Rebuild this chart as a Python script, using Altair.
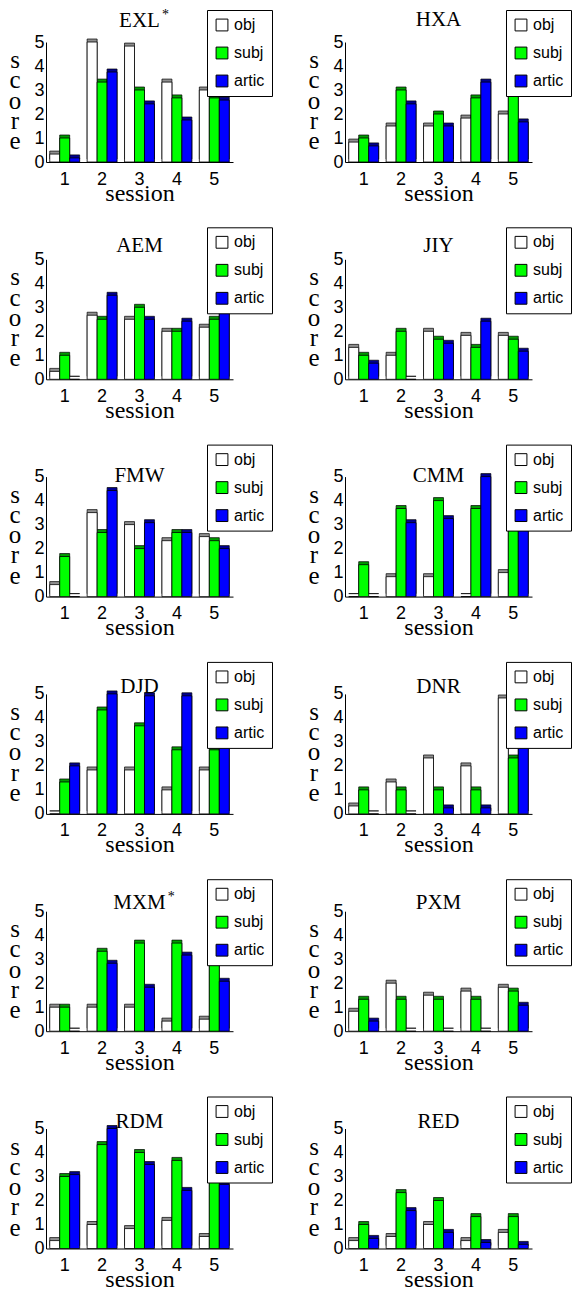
import altair as alt
import pandas as pd

# ---- data ----
sessions = [1, 2, 3, 4, 5]
measures = ["obj", "subj", "artic"]
subjects = ["EXL*", "HXA", "AEM", "JIY", "FMW", "CMM",
            "DJD", "DNR", "MXM*", "PXM", "RDM", "RED"]

obj_scores = [
    [0.33, 5.00, 4.83, 3.33, 3.00],  # EXL
    [0.83, 1.50, 1.50, 1.83, 2.00],  # HXA
    [0.33, 2.67, 2.50, 2.00, 2.17],  # AEM
    [1.33, 1.00, 2.00, 1.83, 1.83],  # JIY
    [0.50, 3.50, 3.00, 2.33, 2.50],  # FMW
    [0.00, 0.83, 0.83, 0.00, 1.00],  # CMM
    [0.00, 1.83, 1.83, 1.00, 1.83],  # DJD
    [0.33, 1.33, 2.33, 2.00, 4.83],  # DNR
    [1.00, 1.00, 1.00, 0.42, 0.50],  # MXM
    [0.83, 2.00, 1.50, 1.67, 1.83],  # PXM
    [0.33, 1.00, 0.83, 1.17, 0.50],  # RDM
    [0.33, 0.50, 1.00, 0.33, 0.67],  # RED
]
subj_scores = [
    [1.00, 3.33, 3.00, 2.67, 2.67],
    [1.00, 3.00, 2.00, 2.67, 3.00],
    [1.00, 2.50, 3.00, 2.00, 2.50],
    [1.00, 2.00, 1.67, 1.33, 1.67],
    [1.67, 2.67, 2.00, 2.67, 2.33],
    [1.33, 3.67, 4.00, 3.67, 3.33],
    [1.33, 4.33, 3.67, 2.67, 2.67],
    [1.00, 1.00, 1.00, 1.00, 2.33],
    [1.00, 3.33, 3.67, 3.67, 3.33],
    [1.33, 1.33, 1.33, 1.33, 1.67],
    [3.00, 4.33, 4.00, 3.67, 3.67],
    [1.00, 2.33, 2.00, 1.33, 1.33],
]
artic_scores = [
    [0.17, 3.75, 2.42, 1.75, 2.58],
    [0.67, 2.42, 1.50, 3.33, 1.67],
    [0.00, 3.50, 2.50, 2.42, 2.83],
    [0.67, 0.00, 1.50, 2.42, 1.17],
    [0.00, 4.42, 3.08, 2.67, 2.00],
    [0.00, 3.08, 3.25, 5.00, 4.33],
    [2.00, 5.00, 4.92, 4.92, 4.42],
    [0.00, 0.00, 0.25, 0.25, 2.75],
    [0.00, 2.83, 1.83, 3.17, 2.08],
    [0.42, 0.00, 0.00, 0.00, 1.08],
    [3.08, 5.00, 3.50, 2.42, 2.67],
    [0.42, 1.58, 0.67, 0.25, 0.17],
]
y_ticks = [0, 1, 2, 3, 4, 5]
y_title_letters = ["s", "c", "o", "r", "e"]

# ---- styling ----
front_colors = ["#ffffff", "#00ff00", "#0000ff"]
side_colors = ["#8f8f8f", "#009a00", "#00008f"]
# baseline of each panel title, in px above the top of its plot area
title_raise = [15, 16, 7, 7, -5, -5, 1, 1, 2, 2, 1, 1]
SERIF = "Liberation Serif"
SANS = "Liberation Sans"
TITLE_SIZE = 21
W, H = 187, 120
# approximate Times advance widths (em) for the capitals used in titles
CAP_EM = {"A": .722, "C": .667, "D": .722, "E": .611, "F": .556, "H": .722,
          "I": .333, "J": .389, "L": .611, "M": .889, "N": .722, "P": .556,
          "R": .667, "W": .944, "X": .722, "Y": .722}


def panel(i):
    rows = []
    for m, vals in zip(measures, [obj_scores[i], subj_scores[i], artic_scores[i]]):
        for s, v in zip(sessions, vals):
            rows.append({"session": s, "measure": m, "score": v})
    df = pd.DataFrame(rows)
    base = alt.Chart(df)

    x = alt.X("session:O",
              scale=alt.Scale(paddingInner=0.2, paddingOuter=0.1),
              axis=alt.Axis(labelAngle=0, ticks=False, grid=False,
                            domainColor="black", domainWidth=1,
                            labelFont=SANS, labelFontSize=18, labelColor="black",
                            labelPadding=8,
                            title="session", titleFont=SERIF, titleFontSize=24,
                            titleFontWeight="normal", titleColor="black",
                            titleBaseline="alphabetic", titleY=38, titleX=W / 2))
    xo = alt.XOffset("measure:N", sort=measures, scale=alt.Scale(domain=measures))
    y = alt.Y("score:Q", scale=alt.Scale(domain=[0, 5], nice=False),
              axis=alt.Axis(values=y_ticks, ticks=False, grid=False,
                            domainColor="black", domainWidth=1,
                            labelFont=SANS, labelFontSize=18, labelColor="black",
                            labelPadding=2, title=None))

    side = base.mark_bar(xOffset=4, yOffset=-3, stroke="black", strokeWidth=0.7).encode(
        x=x, xOffset=xo, y=y,
        fill=alt.Fill("measure:N", scale=alt.Scale(domain=measures, range=side_colors),
                      legend=None),
    )
    front = base.mark_bar(stroke="black", strokeWidth=0.8).encode(
        x=x, xOffset=xo, y=y,
        color=alt.Color("measure:N",
                        scale=alt.Scale(domain=measures, range=front_colors),
                        legend=alt.Legend(orient="none", legendX=161, legendY=-32,
                                          direction="vertical", title=None,
                                          symbolType="square", symbolSize=140,
                                          symbolStrokeColor="black", symbolStrokeWidth=1,
                                          labelFont=SANS, labelFontSize=16,
                                          labelColor="black", labelOffset=4,
                                          padding=7, rowPadding=12,
                                          strokeColor="black", fillColor="white",
                                          cornerRadius=0)),
    )

    # stacked upright letters of the y-axis title "score"
    ytitle = alt.Chart(pd.DataFrame({"letter": y_title_letters})).mark_text(
        font=SERIF, fontSize=25, baseline="middle", align="center", color="black"
    ).encode(
        text="letter:N",
        x=alt.value(-31),
        y=alt.Y("letter:N", sort=None, axis=None,
                scale=alt.Scale(range=[18, 99], padding=0)),
    )

    name = subjects[i].rstrip("*")
    starred = subjects[i].endswith("*")
    raise_px = title_raise[i]
    title = alt.Chart(pd.DataFrame({"name": [name]})).mark_text(
        font=SERIF, fontSize=TITLE_SIZE, baseline="alphabetic", align="center",
        color="black").encode(text="name:N", x=alt.value(W / 2), y=alt.value(-raise_px))
    layers = [side, front, title]
    if starred:
        half_w = sum(CAP_EM.get(c, .7) for c in name) * TITLE_SIZE / 2
        star = alt.Chart(pd.DataFrame({"star": ["*"]})).mark_text(
            font=SERIF, fontSize=14, baseline="alphabetic", align="left",
            color="black").encode(text="star:N", x=alt.value(W / 2 + half_w + 2),
                                  y=alt.value(-raise_px - 8))
        layers.append(star)
    main = alt.layer(*layers)
    return alt.layer(main, ytitle).resolve_scale(y="independent").properties(
        width=W, height=H)


panels = [panel(i) for i in range(len(subjects))]

chart = alt.concat(*panels, columns=2, spacing={"row": 21.3, "column": 34}).resolve_scale(
    color="independent").resolve_legend(color="independent").properties(
    padding={"left": 0, "top": 0, "right": 0, "bottom": 0}
).configure_view(stroke="transparent", strokeWidth=0)

chart.save("out.html", embed_options={"renderer": "svg", "actions": False})
